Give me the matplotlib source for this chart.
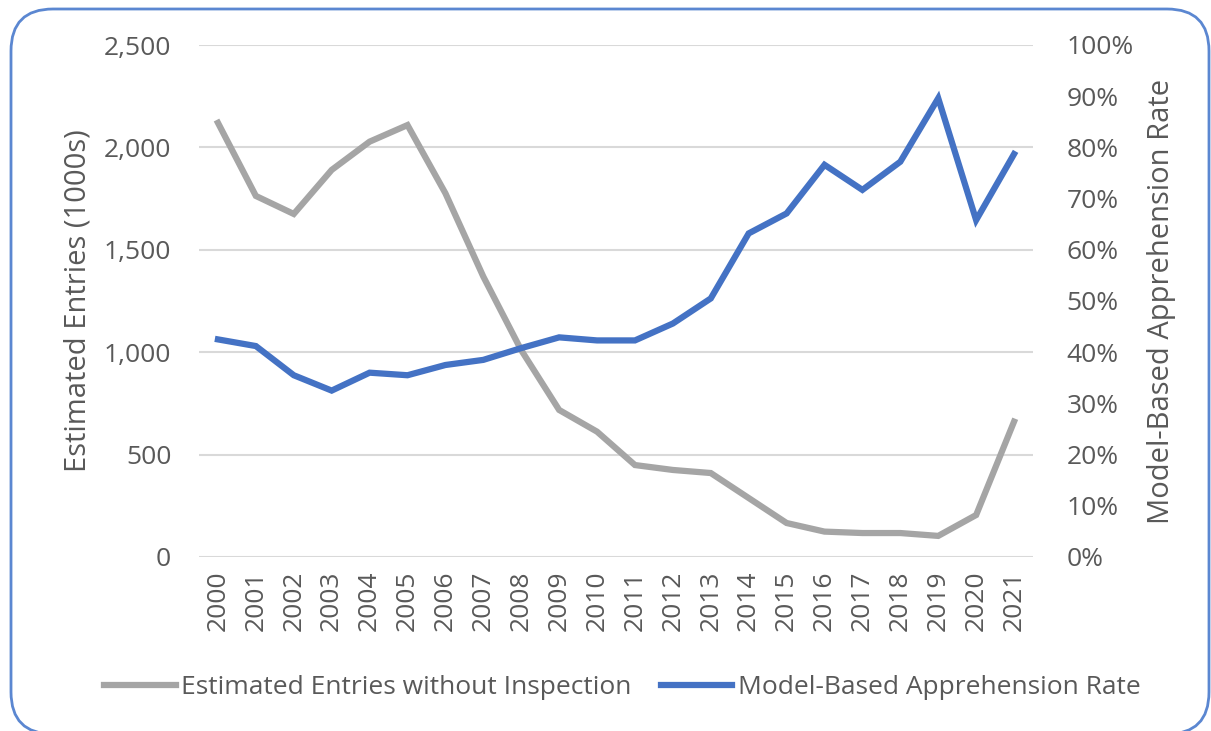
import matplotlib
matplotlib.use('Agg')
import matplotlib.pyplot as plt
from matplotlib.patches import FancyBboxPatch
from matplotlib.ticker import FuncFormatter, MultipleLocator

# data
years = list(range(2000, 2022))
entries = [2120, 1763, 1675, 1890, 2028, 2109, 1776, 1369, 1010, 718,
           612, 449, 425, 410, 288, 166, 124, 117, 117, 103, 205, 661]
appr_rate = [42.5, 41.2, 35.5, 32.5, 36.0, 35.5, 37.5, 38.5, 40.8, 42.9,
             42.3, 42.3, 45.6, 50.5, 63.2, 67.1, 76.6, 71.7, 77.2, 89.6, 65.8, 78.7]

grey = '#A5A5A5'
blue = '#4472C4'
txt = '#595959'

plt.rcParams['font.family'] = ['Open Sans', 'DejaVu Sans']

fig = plt.figure(figsize=(12.11, 7.31), dpi=100)

# rounded frame round the whole chart, drawn in pixel units (y up)
bg = fig.add_axes([0, 0, 1, 1])
bg.set_xlim(0, 1211)
bg.set_ylim(0, 731)
bg.axis('off')
bg.add_patch(FancyBboxPatch((11, -3), 1198, 725,
                            boxstyle='round,pad=0,rounding_size=42',
                            fill=False, edgecolor='#5B87D1', linewidth=2,
                            clip_on=False))

ax = fig.add_axes([199 / 1211, 1 - 557 / 731, 834 / 1211, 512 / 731])
ax2 = ax.twinx()

l1, = ax.plot(years, entries, color=grey, lw=4.5, solid_joinstyle='miter',
              label='Estimated Entries without Inspection')
l2, = ax2.plot(years, appr_rate, color=blue, lw=4.5, solid_joinstyle='miter',
               label='Model-Based Apprehension Rate')

ax.set_xlim(1999.5, 2021.5)
ax.set_ylim(0, 2500)
ax2.set_ylim(0, 100)
ax.yaxis.set_major_locator(MultipleLocator(500))
ax2.yaxis.set_major_locator(MultipleLocator(10))
ax.yaxis.set_major_formatter(FuncFormatter(lambda v, p: f'{int(v):,}'))
ax2.yaxis.set_major_formatter(FuncFormatter(lambda v, p: f'{int(v)}%'))
ax.set_xticks(years)
ax.set_xticklabels([str(y) for y in years], rotation=90)

ax.grid(axis='y', color='#D9D9D9', lw=1.5)
ax.set_axisbelow(True)
for a in (ax, ax2):
    for s in a.spines.values():
        s.set_visible(False)
ax.tick_params(axis='y', length=0, pad=20, labelsize=19, labelcolor=txt)
ax.tick_params(axis='x', length=0, pad=10, labelsize=19, labelcolor=txt)
ax2.tick_params(axis='y', length=0, pad=24, labelsize=19, labelcolor=txt)

ax.set_ylabel('Estimated Entries (1000s)', fontsize=21, color=txt, labelpad=8)
ax2.set_ylabel('Model-Based Apprehension Rate', fontsize=21, color=txt, labelpad=10)

fig.legend(handles=[l1, l2], loc='center', bbox_to_anchor=(0.514, 1 - 688 / 731),
           ncol=2, frameon=False, fontsize=19, labelcolor=txt,
           handlelength=2.7, handletextpad=0.22, columnspacing=1.1)

fig.savefig('out.png', dpi=100)
